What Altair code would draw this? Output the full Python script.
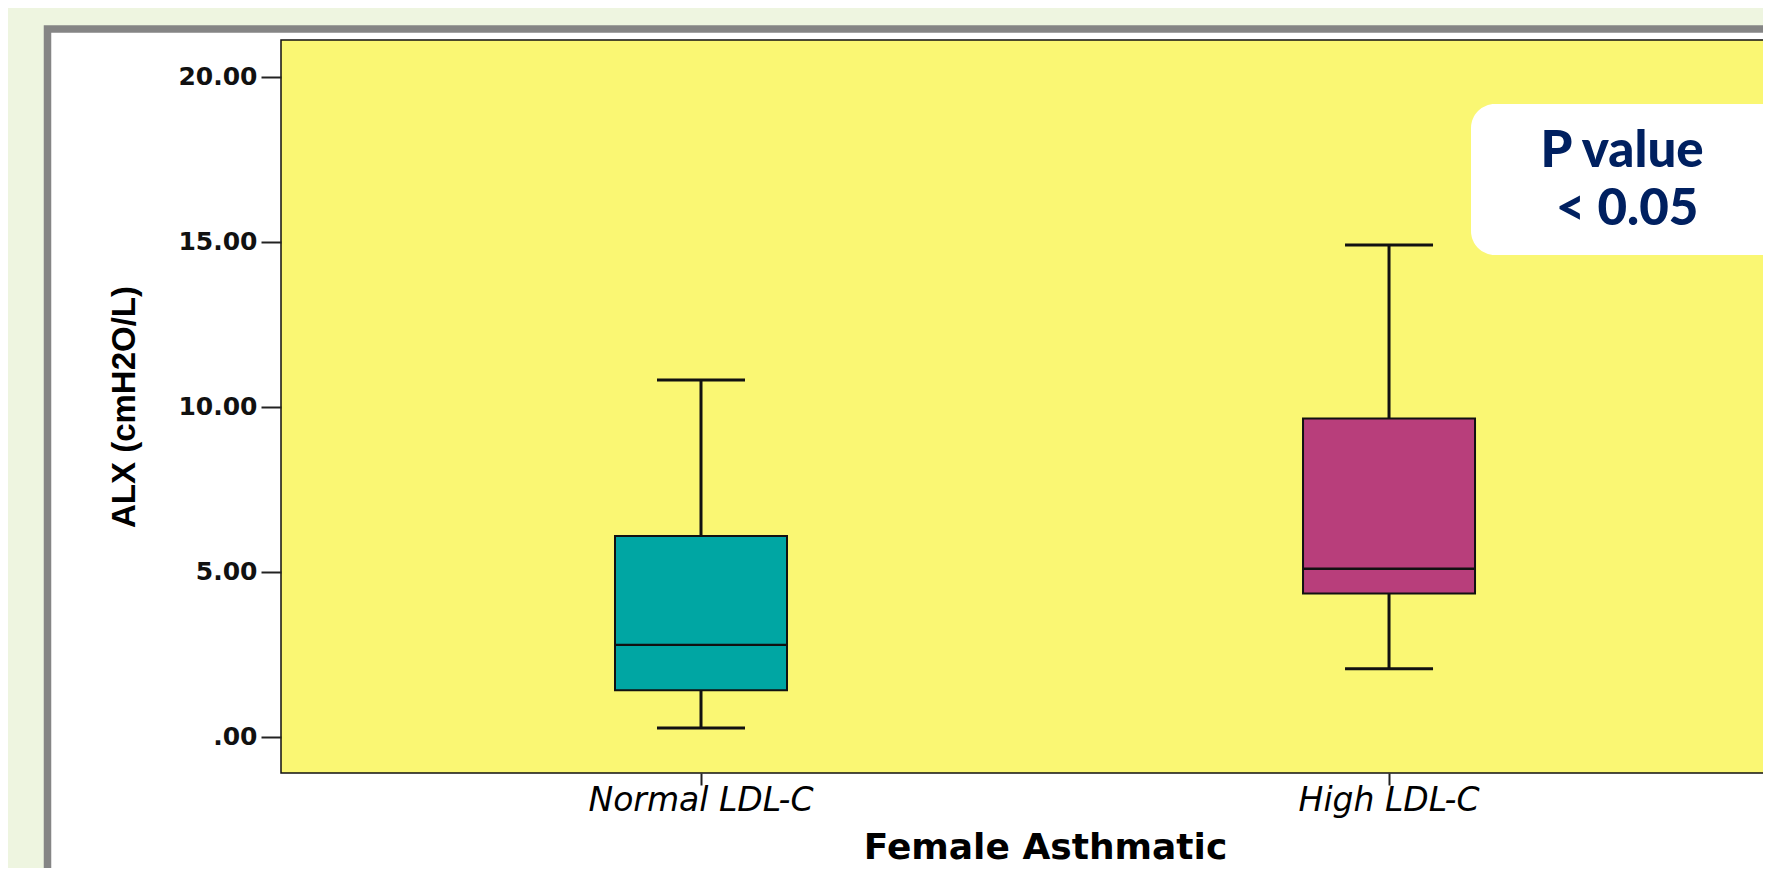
import altair as alt
import pandas as pd

# ---- data ----
groups = ["Normal LDL-C", "High LDL-C"]
whisker_low = [0.27, 2.07]
q1_vals = [1.42, 4.35]
medians = [2.79, 5.10]
q3_vals = [6.09, 9.65]
whisker_high = [10.82, 14.91]
box_colors = ["#00A6A3", "#B83E7B"]
y_ticks = [0, 5, 10, 15, 20]
annot_lines = ["P value", "< 0.05"]

df = pd.DataFrame({
    "group": groups,
    "lo": whisker_low,
    "q1": q1_vals,
    "med": medians,
    "q3": q3_vals,
    "hi": whisker_high,
})

W, H = 1482, 733

x_enc = alt.X(
    "group:N",
    sort=groups,
    scale=alt.Scale(type="band", paddingInner=0.75, paddingOuter=0.452, align=0.537),
    axis=alt.Axis(
        title="Female Asthmatic",
        labelAngle=0,
        labelFont="DejaVu Sans",
        labelFontStyle="italic",
        labelFontWeight="normal",
        labelFontSize=33,
        labelColor="black",
        labelBaseline="alphabetic",
        labelPadding=25,
        labelLimit=0,
        tickSize=12,
        tickWidth=2,
        tickColor="#222222",
        domain=False,
        titleFont="DejaVu Sans",
        titleFontWeight="bold",
        titleFontSize=36,
        titleColor="black",
        titleBaseline="alphabetic",
        titleX=764,
        titleY=85,
        zindex=1,
    ),
)

y_scale = alt.Scale(domain=[-1.091, 21.12], nice=False, zero=False)
y_axis = alt.Axis(
    title="ALX (cmH2O/L)",
    values=y_ticks,
    labelExpr="datum.value == 0 ? '.00' : format(datum.value, '.2f')",
    labelFont="DejaVu Sans",
    labelFontWeight="bold",
    labelFontSize=25,
    labelColor="#111111",
    labelPadding=4,
    tickSize=20,
    tickWidth=2,
    tickColor="#222222",
    domain=False,
    grid=False,
    titleFont="Liberation Sans",
    titleFontWeight="bold",
    titleFontSize=33,
    titleColor="black",
    titleAngle=270,
    titleBaseline="alphabetic",
    titleAlign="center",
    titleX=-147,
    titleY=H / 2,
    zindex=1,
)

one = alt.Data(values=[{}])

# decorations: white panel with gray frame, yellow plot area
panel = alt.Chart(one).mark_rect(fill="white", stroke="#858585", strokeWidth=7.5).encode(
    x=alt.value(-233.5), x2=alt.value(1700), y=alt.value(-11), y2=alt.value(1000)
)
plot_bg = alt.Chart(one).mark_rect(fill="#FAF773", stroke="#111111", strokeWidth=1.5).encode(
    x=alt.value(0), x2=alt.value(1528), y=alt.value(0), y2=alt.value(H)
)

base = alt.Chart(df)

whisk = base.mark_rule(color="#111111", strokeWidth=3).encode(
    x=x_enc,
    y=alt.Y("lo:Q", scale=y_scale, axis=y_axis),
    y2="hi:Q",
)
cap_lo = base.mark_tick(color="#111111", size=88, thickness=3, opacity=1).encode(
    x=x_enc, y=alt.Y("lo:Q", scale=y_scale, axis=y_axis)
)
cap_hi = base.mark_tick(color="#111111", size=88, thickness=3, opacity=1).encode(
    x=x_enc, y=alt.Y("hi:Q", scale=y_scale, axis=y_axis)
)
box = base.mark_bar(stroke="#111111", strokeWidth=2, opacity=1).encode(
    x=x_enc,
    y=alt.Y("q1:Q", scale=y_scale, axis=y_axis),
    y2="q3:Q",
    color=alt.Color("group:N", scale=alt.Scale(domain=groups, range=box_colors), legend=None),
)
med = base.mark_tick(color="#111111", size=172, thickness=2.4, opacity=1).encode(
    x=x_enc, y=alt.Y("med:Q", scale=y_scale, axis=y_axis)
)

annot_box = alt.Chart(one).mark_rect(fill="white", cornerRadius=24).encode(
    x=alt.value(1190), x2=alt.value(1510), y=alt.value(64), y2=alt.value(215)
)
annot1 = alt.Chart(one).mark_text(
    text=annot_lines[0], font="Lato", fontWeight=900, fontSize=51, color="#002060",
    align="center", baseline="alphabetic",
).encode(x=alt.value(1341), y=alt.value(127))
annot2 = alt.Chart(one).mark_text(
    text=annot_lines[1], font="Lato", fontWeight=900, fontSize=51, color="#002060",
    align="center", baseline="alphabetic",
).encode(x=alt.value(1346), y=alt.value(185))

chart = alt.layer(
    panel, plot_bg, whisk, cap_lo, cap_hi, box, med, annot_box, annot1, annot2
).properties(
    width=W,
    height=H,
    background="#EEF5E0",
    padding={"left": 273, "top": 32, "right": 0, "bottom": 95},
    autosize=alt.AutoSizeParams(type="none"),
).configure_view(stroke=None)

chart.save("out.html", embed_options={"renderer": "svg", "actions": False})
